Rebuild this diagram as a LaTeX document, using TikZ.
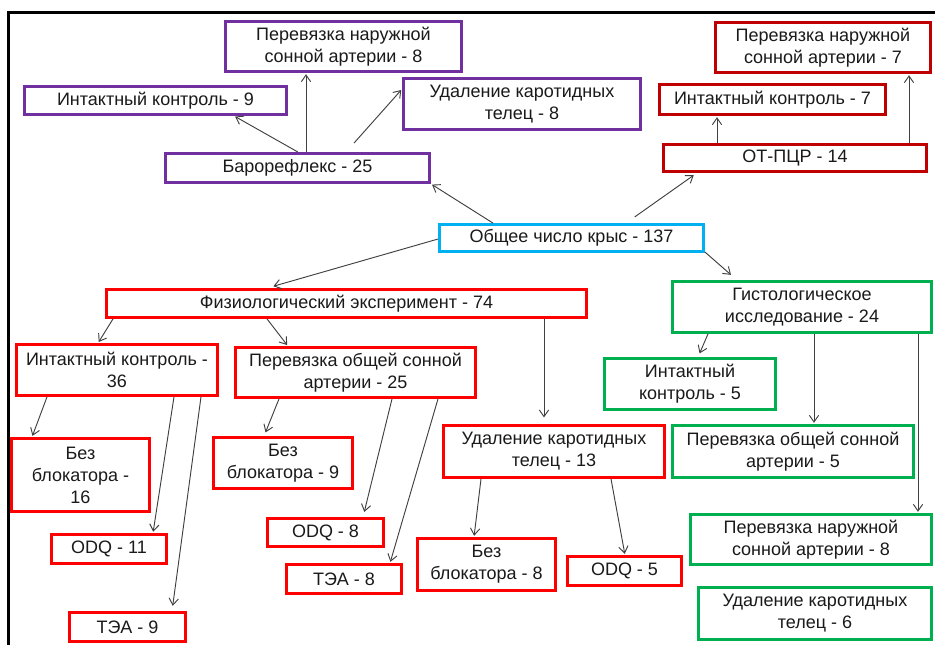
\documentclass[tikz,border=0pt]{standalone}
\usepackage{fontspec}
\setmainfont{Liberation Sans}
\usetikzlibrary{arrows.meta}
\definecolor{cpurple}{HTML}{7030A0}
\definecolor{cdred}{HTML}{C00000}
\definecolor{cred}{HTML}{FF0000}
\definecolor{cgreen}{HTML}{00B050}
\definecolor{cblue}{HTML}{00B0F0}
\definecolor{cline}{HTML}{404040}
\definecolor{ctext}{HTML}{1A1A1A}
\tikzset{
  box/.style={draw, line width=2.1pt, fill=white, inner sep=0pt, align=center,
    text=ctext, font=\fontsize{13.5}{16.5}\selectfont},
  pbox/.style={box, draw=cpurple},
  dbox/.style={box, draw=cdred},
  rbox/.style={box, draw=cred},
  gbox/.style={box, draw=cgreen},
  bbox/.style={box, draw=cblue},
  arr/.style={draw=cline, line width=0.7pt, -{Straight Barb[length=5pt,width=7pt,line width=0.7pt]}, shorten >=1pt},
}
\newcommand\bx[7]{\node[#6, minimum width={(#4-#2-3)*0.75pt}, minimum height={(#5-#3-3)*0.75pt}] (#1) at ({(#2+#4)/2},{(#3+#5)/2}) {#7};}
\begin{document}
\begin{tikzpicture}[x=0.75pt,y=-0.75pt]
\useasboundingbox (0,0) rectangle (935,645);
\fill[white] (0,0) rectangle (935,645);
\draw[line width=1.6pt, black] (8.5,645) -- (8.5,12.5) -- (935,12.5);
% purple
\bx{per8}{224}{20}{463}{73}{pbox}{Перевязка наружной\\сонной артерии - 8}
\bx{ik9}{23}{85}{288}{116}{pbox}{Интактный контроль - 9}
\bx{ud8}{402}{77}{642}{131}{pbox}{Удаление каротидных\\телец - 8}
\bx{bar}{164}{152}{431}{184}{pbox}{Барорефлекс - 25}
% dark red
\bx{per7}{714}{21}{932}{74}{dbox}{Перевязка наружной\\сонной артерии - 7}
\bx{ik7}{658}{83}{887}{116}{dbox}{Интактный контроль - 7}
\bx{otp}{662}{143}{928}{173}{dbox}{ОТ-ПЦР - 14}
% blue
\bx{obs}{438}{223}{705}{253}{bbox}{Общее число крыс - 137}
% red
\bx{phys}{105}{288}{588}{319}{rbox}{Физиологический эксперимент - 74}
\bx{ik36}{15}{343}{219}{397}{rbox}{Интактный контроль -\\36}
\bx{poc25}{234}{346}{477}{399}{rbox}{Перевязка общей сонной\\артерии - 25}
\bx{bb16}{10}{437}{151}{513}{rbox}{Без\\блокатора -\\16}
\bx{bb9}{212}{436}{354}{490}{rbox}{Без\\блокатора - 9}
\bx{odq11}{50}{533}{168}{565}{rbox}{ODQ - 11}
\bx{tea9}{68}{611}{187}{643}{rbox}{ТЭА - 9}
\bx{odq8}{266}{517}{385}{548}{rbox}{ODQ - 8}
\bx{tea8}{285}{563}{403}{595}{rbox}{ТЭА - 8}
\bx{ud13}{442}{424}{666}{479}{rbox}{Удаление каротидных\\телец - 13}
\bx{bb8}{416}{537}{557}{592}{rbox}{Без\\блокатора - 8}
\bx{odq5}{566}{555}{683}{587}{rbox}{ODQ - 5}
% green
\bx{hist}{671}{280}{933}{334}{gbox}{Гистологическое\\исследование - 24}
\bx{ik5}{603}{357}{777}{411}{gbox}{Интактный\\контроль - 5}
\bx{poc5}{671}{424}{915}{479}{gbox}{Перевязка общей сонной\\артерии - 5}
\bx{pns8}{689}{513}{933}{566}{gbox}{Перевязка наружной\\сонной артерии - 8}
\bx{ud6}{697}{586}{933}{641}{gbox}{Удаление каротидных\\телец - 6}
% connectors: purple group
\draw[arr] (298,0 |- bar.north) -- (234,0 |- ik9.south);
\draw[arr] (306,0 |- bar.north) -- (306,0 |- per8.south);
\draw[arr, shorten <=9pt] (346,0 |- bar.north) -- (ud8.west |- 0,89);
\draw[arr] (493,0 |- obs.north) -- (bar.south east);
% dark red group
\draw[arr, shorten <=8pt, shorten >=3pt] (626,0 |- obs.north) -- (697,0 |- otp.south);
\draw[arr] (717,0 |- otp.north) -- (717,0 |- ik7.south);
\draw[arr] (909,0 |- otp.north) -- (909,0 |- per7.south);
% main
\draw[arr, shorten >=5pt] (obs.west |- 0,239) -- (267,0 |- phys.north);
\draw[arr, shorten >=6pt] (obs.east |- 0,252) -- (737,0 |- hist.north);
\draw[arr] (113,0 |- phys.south) -- (98,0 |- ik36.north);
\draw[arr] (267,0 |- phys.south) -- (288,0 |- poc25.north);
\draw[arr, shorten >=5pt] (544,0 |- phys.south) -- (544,0 |- ud13.north);
\draw[arr] (47,0 |- ik36.south) -- (32,0 |- bb16.north);
\draw[arr] (174,0 |- ik36.south) -- (153,0 |- odq11.north);
\draw[arr, shorten >=4pt] (201,0 |- ik36.south) -- (172,0 |- tea9.north);
\draw[arr, shorten >=3pt] (279,0 |- poc25.south) -- (264,0 |- bb9.north);
\draw[arr, shorten >=4pt] (392,0 |- poc25.south) -- (363,0 |- odq8.north);
\draw[arr] (438,0 |- poc25.south) -- (390,0 |- tea8.north);
\draw[arr] (481,0 |- ud13.south) -- (474,0 |- bb8.north);
\draw[arr] (611,0 |- ud13.south) -- (625,0 |- odq5.north);
% green
\draw[arr, shorten >=3pt] (708,0 |- hist.south) -- (698,0 |- ik5.north);
\draw[arr] (814,0 |- hist.south) -- (814,0 |- poc5.north);
\draw[arr] (918,0 |- hist.south) -- (918,0 |- pns8.north);
\end{tikzpicture}
\end{document}
